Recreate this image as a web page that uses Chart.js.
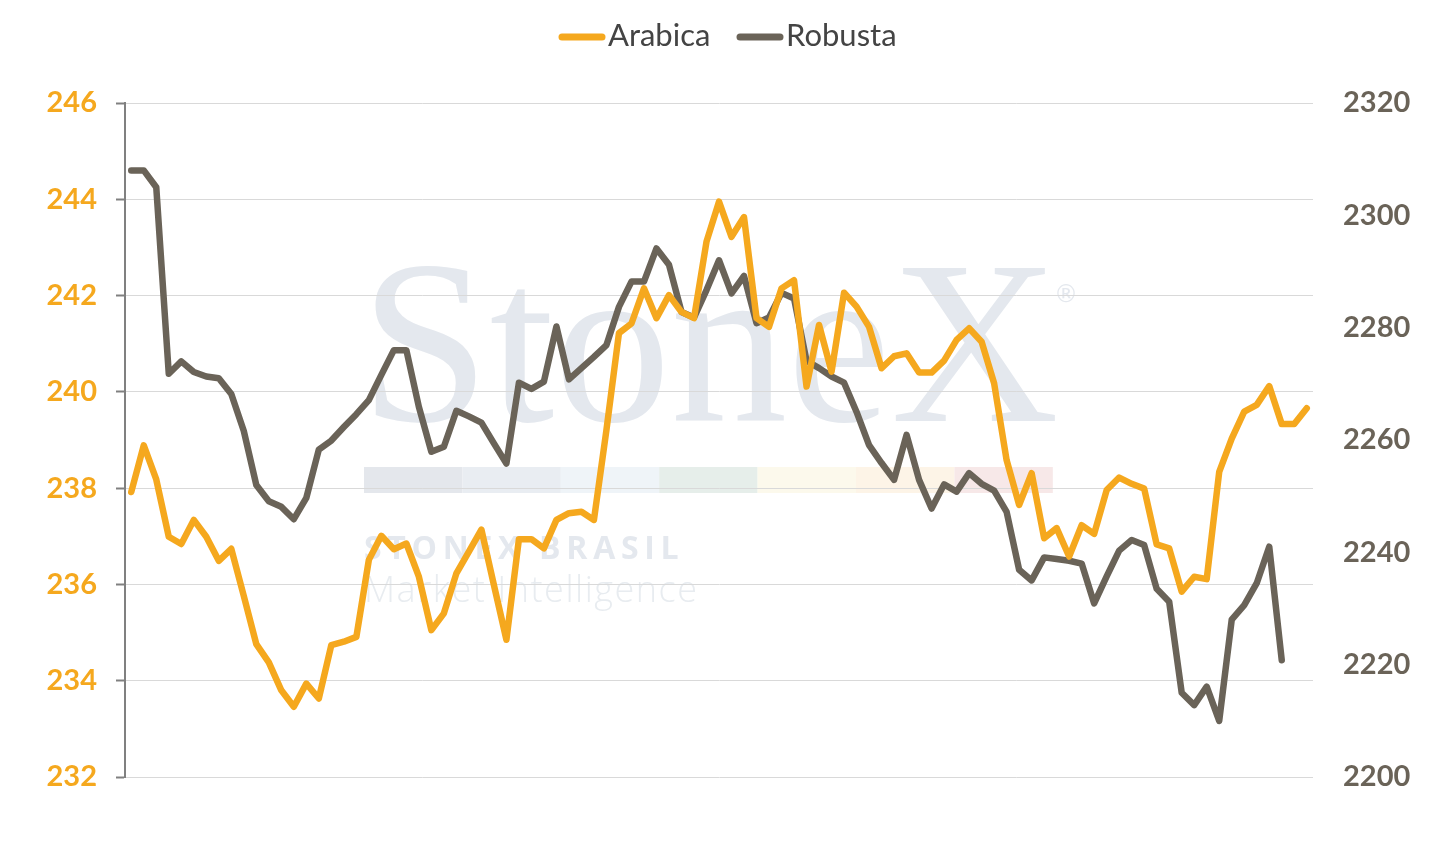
<!DOCTYPE html>
<html>
<head>
<meta charset="utf-8">
<script src="https://cdn.jsdelivr.net/npm/chart.js@4.4.1/dist/chart.umd.min.js"></script>
<style>
  html, body { margin: 0; padding: 0; background: #fff; }
  #wrap { width: 1453px; height: 842px; }
</style>
</head>
<body>
<div id="wrap"><canvas id="grafico"></canvas></div>
<script>
// Valores (Arabica eje izq., Robusta eje der.)
const arabica = [
  237.92, 238.89, 238.18, 236.99, 236.84, 237.34, 236.99, 236.49, 236.74, 235.76,
  234.76, 234.38, 233.80, 233.46, 233.94, 233.63, 234.74, 234.81, 234.91, 236.51,
  237.01, 236.73, 236.85, 236.16, 235.05, 235.40, 236.23, 236.68, 237.14, 235.99,
  234.85, 236.94, 236.94, 236.75, 237.34, 237.48, 237.51, 237.34, 239.21, 241.22,
  241.42, 242.15, 241.53, 242.01, 241.66, 241.53, 243.12, 243.95, 243.22, 243.63,
  241.53, 241.35, 242.15, 242.32, 240.11, 241.39, 240.42, 242.06, 241.77, 241.35,
  240.49, 240.74, 240.80, 240.40, 240.40, 240.65, 241.08, 241.32, 241.04, 240.18,
  238.58, 237.65, 238.31, 236.96, 237.17, 236.58, 237.23, 237.05, 237.96, 238.22,
  238.09, 237.99, 236.83, 236.75, 235.85, 236.16, 236.11, 238.34, 239.03, 239.59,
  239.73, 240.12, 239.33, 239.33, 239.66
];
const robusta = [
  2308.0, 2308.0, 2305.0, 2271.8, 2274.0, 2272.1, 2271.3, 2271.0, 2268.2, 2261.6,
  2252.0, 2249.1, 2248.1, 2245.9, 2249.7, 2258.3, 2259.9, 2262.3, 2264.6, 2267.1,
  2271.6, 2276.0, 2276.0, 2265.9, 2257.9, 2258.8, 2265.2, 2264.2, 2263.1, 2259.4,
  2255.8, 2270.2, 2269.1, 2270.4, 2280.2, 2270.8, 2272.8, 2274.8, 2276.9, 2283.7,
  2288.2, 2288.2, 2294.1, 2291.2, 2282.8, 2281.8, 2286.7, 2292.0, 2286.1, 2289.2,
  2280.8, 2281.8, 2286.2, 2285.2, 2274.1, 2272.8, 2271.3, 2270.2, 2265.0, 2259.1,
  2255.9, 2252.9, 2260.9, 2252.9, 2247.8, 2252.1, 2250.8, 2254.1, 2252.2, 2251.0,
  2247.2, 2236.9, 2235.0, 2239.1, 2238.8, 2238.5, 2238.0, 2230.9, 2235.7, 2240.3,
  2242.2, 2241.3, 2233.5, 2231.2, 2215.0, 2212.8, 2216.1, 2210.0, 2228.0, 2230.6,
  2234.5, 2241.0, 2220.8, null, null
];
// Sin etiquetas visibles en el eje x, solo posiciones
const categorias = arabica.map((_, i) => i + 1);

const ticksIzq = { min: 232, max: 246, paso: 2 };
const ticksDer = { min: 2200, max: 2320, paso: 20 };

const NARANJA = "#F5A81E";
const CAFE = "#6A6358";

// Marca de agua de fondo
const marcaAgua = {
  id: "marcaAgua",
  beforeDraw(chart) {
    const ctx = chart.ctx;
    ctx.save();
    ctx.fillStyle = "#E4E8EE";
    ctx.font = "233px 'Liberation Serif'";
    ctx.textBaseline = "alphabetic";
    ctx.fillText("StoneX", 360, 421);
    ctx.font = "24px 'DejaVu Sans'";
    ctx.fillText("®", 1054, 302);

    const franja = ["#E4E7EC", "#E9EDF2", "#EFF4F8", "#E6EEEA", "#FCF9EC", "#FDF4E7", "#F7E8E8"];
    franja.forEach((c, i) => {
      ctx.fillStyle = c;
      ctx.fillRect(364 + i * 98.4, 467, 98.4, 26);
    });

    ctx.fillStyle = "#E4E8EE";
    ctx.font = "bold 32px 'Open Sans'";
    ctx.letterSpacing = "5.7px";
    ctx.fillText("STONEX BRASIL", 364, 559);
    ctx.fillStyle = "#E8ECF0";
    ctx.font = "300 36px 'Open Sans'";
    ctx.letterSpacing = "1.5px";
    ctx.fillText("Market Intelligence", 364, 602);
    ctx.letterSpacing = "0px";
    ctx.restore();
  }
};

// Leyenda propia: línea + texto pegados como en el original
const leyenda = {
  id: "leyenda",
  afterDraw(chart) {
    const ctx = chart.ctx;
    const pos = [559, 737];
    ctx.save();
    chart.data.datasets.forEach((ds, i) => {
      const x = pos[i];
      ctx.strokeStyle = ds.borderColor;
      ctx.lineWidth = 7;
      ctx.lineCap = "round";
      ctx.beginPath();
      ctx.moveTo(x + 3, 37);
      ctx.lineTo(x + 43, 37);
      ctx.stroke();
      ctx.fillStyle = "#444444";
      ctx.font = "31px Lato";
      ctx.textBaseline = "middle";
      ctx.fillText(ds.label, x + 49, 36);
    });
    ctx.restore();
  }
};

const ctx = document.getElementById("grafico").getContext("2d");
new Chart(ctx, {
  type: "line",
  data: {
    labels: categorias,
    datasets: [
      {
        label: "Arabica",
        data: arabica,
        yAxisID: "yIzq",
        borderColor: NARANJA,
        backgroundColor: NARANJA,
        borderWidth: 6.5,
        borderCapStyle: "round",
        borderJoinStyle: "round",
        pointRadius: 0,
        tension: 0,
      },
      {
        label: "Robusta",
        data: robusta,
        yAxisID: "yDer",
        borderColor: CAFE,
        backgroundColor: CAFE,
        borderWidth: 6.5,
        borderCapStyle: "round",
        borderJoinStyle: "round",
        pointRadius: 0,
        tension: 0,
      },
    ],
  },
  options: {
    responsive: true,
    maintainAspectRatio: false,
    animation: false,
    layout: { padding: { top: 103, bottom: 65, left: 0, right: 0 } },
    plugins: {
      legend: { display: false },
      tooltip: { enabled: false },
    },
    scales: {
      x: {
        display: false,
        offset: true,
      },
      yIzq: {
        position: "left",
        min: ticksIzq.min,
        max: ticksIzq.max,
        afterFit(scale) { scale.width = 125; },
        ticks: {
          stepSize: ticksIzq.paso,
          color: NARANJA,
          padding: 19,
          font: { family: "Lato", size: 29, weight: "bold" },
        },
        grid: {
          color: "#D9D9D9",
          lineWidth: 1,
          tickColor: "#808080",
          tickLength: 9,
          tickWidth: 2,
        },
        border: { color: "#808080", width: 2 },
      },
      yDer: {
        position: "right",
        min: ticksDer.min,
        max: ticksDer.max,
        afterFit(scale) { scale.width = 140; },
        ticks: {
          stepSize: ticksDer.paso,
          color: CAFE,
          padding: 30,
          font: { family: "Lato", size: 29, weight: "bold" },
          callback: (v) => String(v),
        },
        grid: { drawOnChartArea: false, drawTicks: false },
        border: { display: false },
      },
    },
  },
  plugins: [marcaAgua, leyenda],
});
</script>
</body>
</html>
